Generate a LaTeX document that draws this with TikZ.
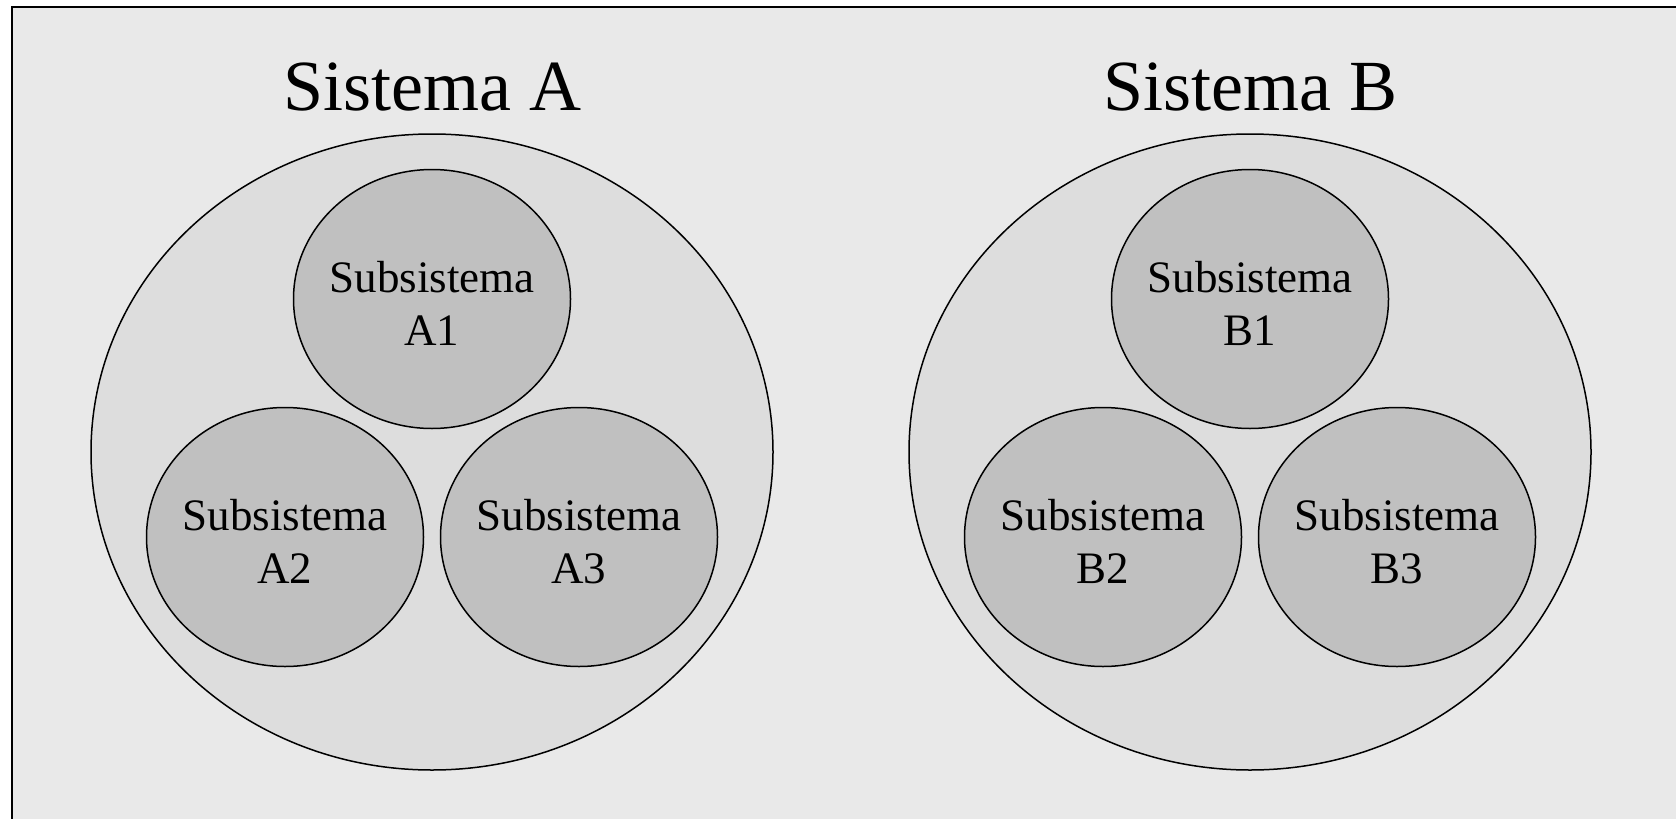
\documentclass[tikz,border=0pt]{standalone}
\usepackage{fontspec}
\setmainfont{Liberation Serif}
\usetikzlibrary{shapes.geometric}

\definecolor{bgpanel}{HTML}{E9E9E9}
\definecolor{sysfill}{HTML}{DDDDDD}
\definecolor{subfill}{HTML}{C0C0C0}

% two-line label of a subsystem
\newcommand{\subname}[1]{\rule{0pt}{40pt}Subsistema\\#1}

\begin{document}
\begin{tikzpicture}[
  x=1pt, y=-1pt,
  system/.style={draw, ellipse, line width=1.5pt, fill=sysfill, inner sep=0pt,
                 minimum width=682pt, minimum height=636pt},
  subsys/.style={draw, ellipse, line width=1.5pt, fill=subfill,
                 inner xsep=-5pt, inner ysep=0pt,
                 minimum width=277pt, minimum height=259pt, align=center,
                 font=\fontsize{45}{53}\selectfont},
  title/.style={anchor=base, font=\fontsize{72}{80}\selectfont}
]
  \useasboundingbox (0,0) rectangle (1676,819);
  % panel frame (runs past the right and bottom edges)
  \draw[line width=2pt, fill=bgpanel] (11.5,7) rectangle (1700,840);

  % Sistema A
  \node[title] (titA) at (432,110) {Sistema A};
  \node[system] (sysA) at (432,452) {};
  \node[subsys] (subA1) at (432,299) {\subname{A1}};
  \node[subsys] (subA2) at (285,537) {\subname{A2}};
  \node[subsys] (subA3) at (579,537) {\subname{A3}};

  % Sistema B
  \node[title] (titB) at (1250,110) {Sistema B};
  \node[system] (sysB) at (1250,452) {};
  \node[subsys] (subB1) at (1250,299) {\subname{B1}};
  \node[subsys] (subB2) at (1103,537) {\subname{B2}};
  \node[subsys] (subB3) at (1397,537) {\subname{B3}};
\end{tikzpicture}
\end{document}
